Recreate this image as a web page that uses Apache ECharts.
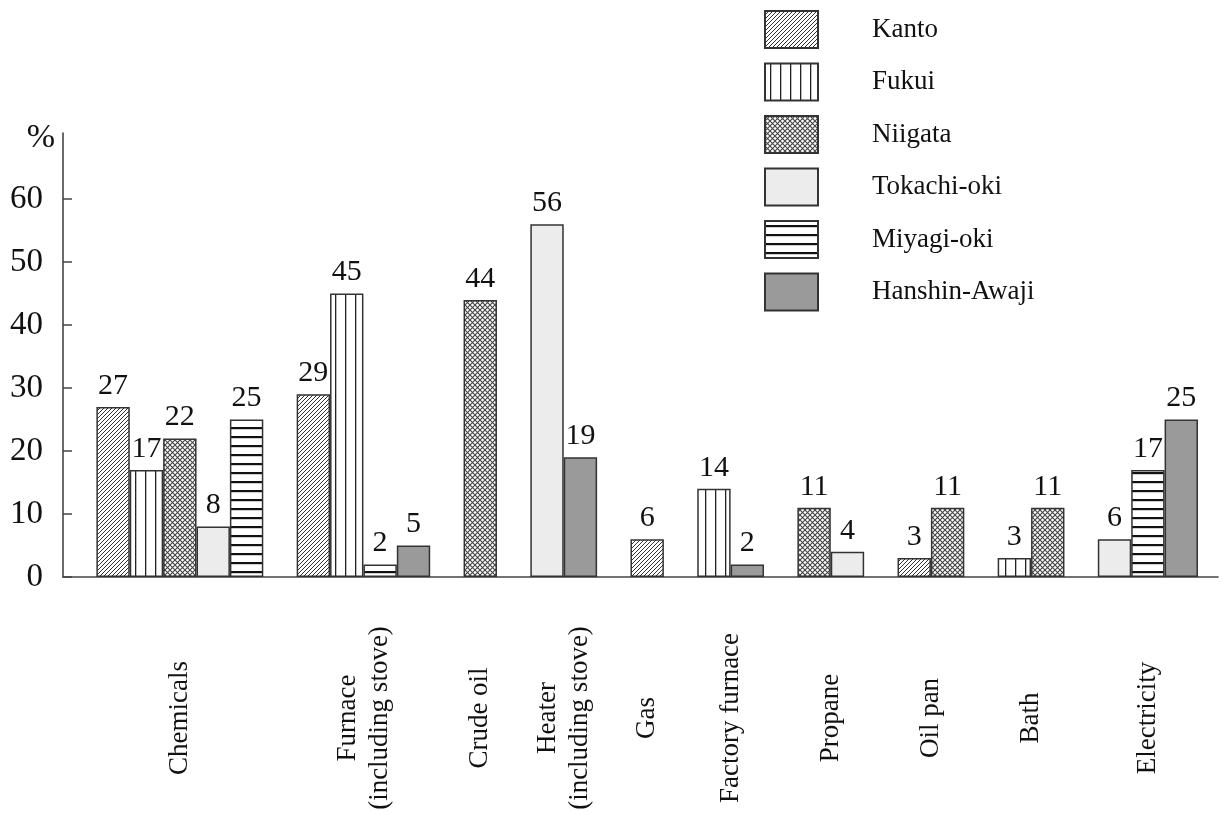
<!DOCTYPE html>
<html>
<head>
<meta charset="utf-8">
<script src="https://cdn.jsdelivr.net/npm/echarts@6/dist/echarts.min.js"></script>
<style>
  html, body { margin: 0; padding: 0; background: #fff; }
  #main { width: 1223px; height: 814px; }
</style>
</head>
<body>
<div id="main"></div>
<script>
// categories on the x axis
var categories = ['Chemicals', 'Furnace\n(including stove)', 'Crude oil', 'Heater\n(including stove)', 'Gas',
  'Factory furnace', 'Propane', 'Oil pan', 'Bath', 'Electricity'];

// percent per earthquake, null = no bar
var kanto   = [27, 29, null, null, 6, null, null, 3, null, null];
var fukui   = [17, 45, null, null, null, 14, null, null, 3, null];
var niigata = [22, null, 44, null, null, null, 11, 11, 11, null];
var tokachi = [8, null, null, 56, null, null, 4, null, null, 6];
var miyagi  = [25, 2, null, null, null, null, null, null, null, 17];
var hanshin = [null, 5, null, 19, null, 2, null, null, null, 25];

var yTicks = [0, 10, 20, 30, 40, 50, 60];

var FONT = '"Liberation Serif", "Times New Roman", serif';

// hatch fills
function makePattern(kind) {
  var c = document.createElement('canvas');
  var ctx;
  if (kind === 'diag') {
    c.width = 4; c.height = 4;
    ctx = c.getContext('2d');
    ctx.fillStyle = '#fff'; ctx.fillRect(0, 0, 4, 4);
    ctx.strokeStyle = '#333'; ctx.lineWidth = 1;
    ctx.beginPath();
    ctx.moveTo(-1, 5); ctx.lineTo(5, -1);
    ctx.moveTo(-1, 1); ctx.lineTo(1, -1);
    ctx.moveTo(3, 5); ctx.lineTo(5, 3);
    ctx.stroke();
  } else if (kind === 'cross') {
    c.width = 5; c.height = 5;
    ctx = c.getContext('2d');
    ctx.fillStyle = '#fff'; ctx.fillRect(0, 0, 5, 5);
    ctx.strokeStyle = '#444'; ctx.lineWidth = 1.1;
    ctx.beginPath();
    ctx.moveTo(-1, 6); ctx.lineTo(6, -1);
    ctx.moveTo(-1, -1); ctx.lineTo(6, 6);
    ctx.stroke();
  } else if (kind === 'vert') {
    c.width = 10; c.height = 10;
    ctx = c.getContext('2d');
    ctx.fillStyle = '#fff'; ctx.fillRect(0, 0, 10, 10);
    ctx.fillStyle = '#222'; ctx.fillRect(5, 0, 1.3, 10);
  } else if (kind === 'horiz') {
    c.width = 9; c.height = 9;
    ctx = c.getContext('2d');
    ctx.fillStyle = '#fff'; ctx.fillRect(0, 0, 9, 9);
    ctx.fillStyle = '#111'; ctx.fillRect(0, 4, 9, 2.2);
  }
  return { image: c, repeat: 'repeat' };
}

var seriesDefs = [
  { name: 'Kanto', values: kanto, color: makePattern('diag') },
  { name: 'Fukui', values: fukui, color: makePattern('vert') },
  { name: 'Niigata', values: niigata, color: makePattern('cross') },
  { name: 'Tokachi-oki', values: tokachi, color: '#ececec' },
  { name: 'Miyagi-oki', values: miyagi, color: makePattern('horiz') },
  { name: 'Hanshin-Awaji', values: hanshin, color: '#9a9a9a' }
];

// bars sit side by side in each group, one empty slot between groups
var slot = 0;
var groupCenters = [];
seriesDefs.forEach(function (s) { s.points = []; });
categories.forEach(function (cat, ci) {
  var start = slot;
  seriesDefs.forEach(function (s) {
    if (s.values[ci] != null) {
      s.points.push([slot + 0.5, s.values[ci]]);
      slot++;
    }
  });
  groupCenters.push((start + slot) / 2);
  slot++;
});

var myChart = echarts.init(document.getElementById('main'));
myChart.setOption({
  animation: false,
  legend: {
    orient: 'vertical',
    left: 764,
    top: 10,
    padding: 0,
    icon: 'rect',
    itemWidth: 53,
    itemHeight: 37,
    itemGap: 13.5,
    selectedMode: false,
    textStyle: { fontFamily: FONT, fontSize: 27, color: '#111', padding: [0, 0, 0, 49] },
    data: seriesDefs.map(function (s) { return s.name; })
  },
  grid: { left: 63, right: 5, top: 133, bottom: 237 },
  xAxis: {
    type: 'value',
    min: -1,
    max: 33.6,
    splitLine: { show: false },
    axisLine: { show: true, lineStyle: { color: '#444', width: 1.6 } },
    axisTick: { show: false },
    axisLabel: {
      customValues: groupCenters,
      rotate: 90,
      align: 'center',
      margin: 141,
      fontFamily: FONT,
      fontSize: 27,
      lineHeight: 32,
      color: '#111',
      formatter: function (v) {
        var i = groupCenters.indexOf(v);
        return i >= 0 ? categories[i] : '';
      }
    }
  },
  yAxis: {
    type: 'value',
    min: 0,
    max: 70.5,
    name: '%',
    nameLocation: 'end',
    nameGap: -5,
    nameTextStyle: { fontFamily: FONT, fontSize: 34, color: '#111', align: 'right', verticalAlign: 'middle', padding: [0, 8, 0, 0] },
    splitLine: { show: false },
    axisLine: { show: true, onZero: false, lineStyle: { color: '#444', width: 1.6 } },
    axisTick: { show: true, inside: true, length: 9, customValues: yTicks, lineStyle: { color: '#444', width: 1.5 } },
    axisLabel: { customValues: yTicks, margin: 20, fontFamily: FONT, fontSize: 33, color: '#111' }
  },
  series: seriesDefs.map(function (s) {
    return {
      name: s.name,
      type: 'bar',
      barWidth: 33.4,
      barGap: '-100%',
      data: s.points,
      itemStyle: { color: s.color, borderColor: '#333', borderWidth: 1.5 },
      label: { show: true, position: 'top', distance: 6, fontFamily: FONT, fontSize: 30, color: '#111' },
      emphasis: { disabled: true }
    };
  })
});
</script>
</body>
</html>
